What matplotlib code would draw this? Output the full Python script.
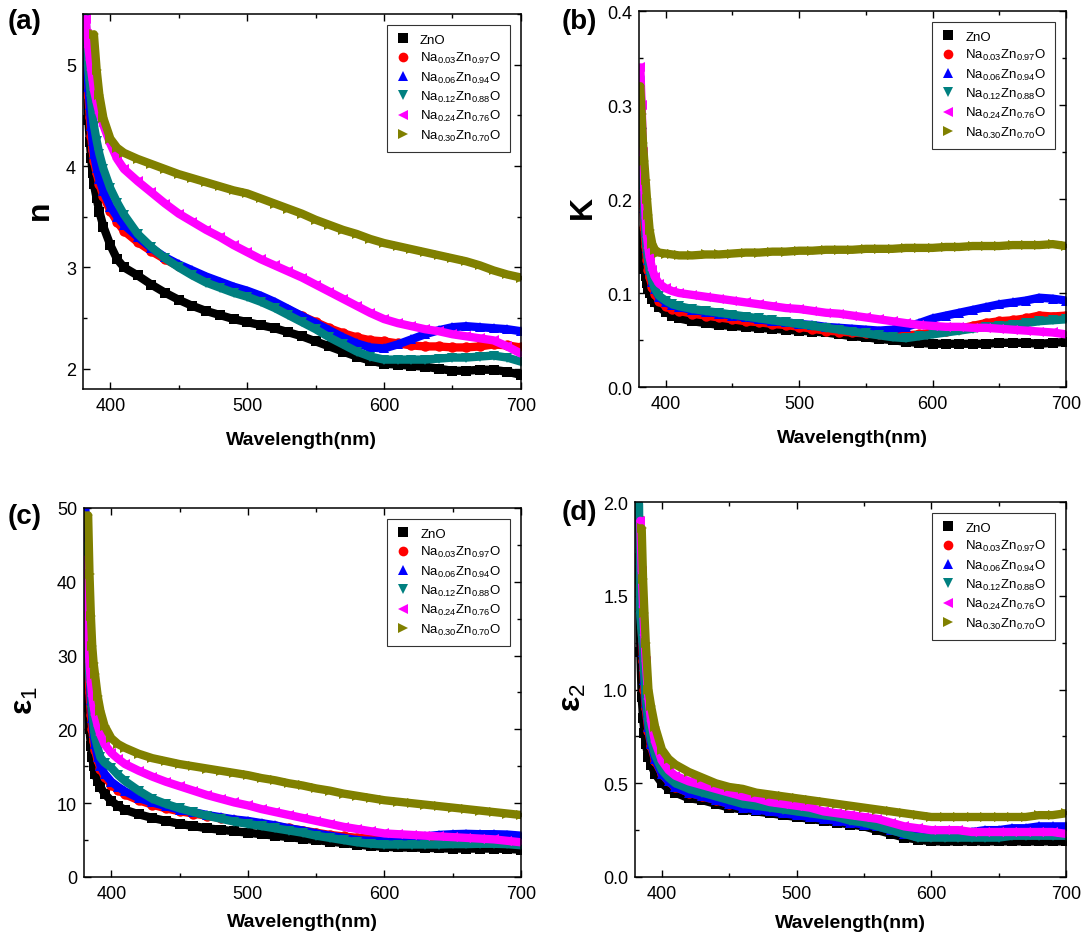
import numpy as np
import matplotlib
matplotlib.use('Agg')
import matplotlib.pyplot as plt
from matplotlib.lines import Line2D
from matplotlib.ticker import MultipleLocator, FormatStrFormatter

plt.rcParams['font.family'] = ['Liberation Sans', 'DejaVu Sans']
plt.rcParams['mathtext.fontset'] = 'custom'
plt.rcParams['mathtext.rm'] = 'Liberation Sans'
plt.rcParams['mathtext.it'] = 'Liberation Sans'
plt.rcParams['mathtext.bf'] = 'Liberation Sans:bold'

nan = np.nan

# wavelength grid (nm): fine steps near the band edge, 10 nm after that
wl = [381, 382, 383, 384, 385, 386, 387, 388, 390, 392, 395, 400, 405, 410] + list(range(420, 701, 10))

samples = ['ZnO', 'Na$_{0.03}$Zn$_{0.97}$O', 'Na$_{0.06}$Zn$_{0.94}$O',
           'Na$_{0.12}$Zn$_{0.88}$O', 'Na$_{0.24}$Zn$_{0.76}$O', 'Na$_{0.30}$Zn$_{0.70}$O']
colors = ['#000000', '#ff0000', '#0000ff', '#008080', '#ff00ff', '#808000']
markers = ['s', 'o', '^', 'v', '<', '>']

# refractive index n
n_ZnO = [nan, 5.2, 4.8, 4.45, 4.24, 4.08, 3.93, 3.82, 3.68, 3.55, 3.4, 3.22, 3.08, 3.0,
         2.92, 2.83, 2.75, 2.68, 2.62, 2.57, 2.53, 2.49, 2.46, 2.43, 2.4, 2.36, 2.32, 2.27, 2.22,
         2.17, 2.12, 2.08, 2.05, 2.04, 2.03, 2.02, 2.0, 1.98, 1.98, 1.99, 1.99, 1.97, 1.94]
n_03 = [nan, 5.32, 4.99, 4.7, 4.48, 4.3, 4.16, 4.05, 3.93, 3.82, 3.7, 3.56, 3.45, 3.36,
        3.25, 3.16, 3.08, 3.01, 2.95, 2.89, 2.84, 2.79, 2.74, 2.69, 2.64, 2.58, 2.52, 2.46, 2.4,
        2.35, 2.31, 2.28, 2.27, 2.25, 2.23, 2.22, 2.22, 2.21, 2.21, 2.22, 2.24, 2.23, 2.21]
n_06 = [nan, 5.27, 5.02, 4.78, 4.6, 4.4, 4.25, 4.12, 3.98, 3.87, 3.75, 3.6, 3.5, 3.42,
        3.3, 3.19, 3.1, 3.03, 2.97, 2.91, 2.86, 2.81, 2.77, 2.72, 2.66, 2.59, 2.52, 2.45, 2.38,
        2.31, 2.25, 2.21, 2.2, 2.24, 2.29, 2.34, 2.38, 2.41, 2.42, 2.41, 2.4, 2.39, 2.37]
n_12 = [nan, 5.45, 5.14, 4.95, 4.8, 4.65, 4.5, 4.4, 4.25, 4.12, 3.97, 3.78, 3.64, 3.52,
        3.33, 3.2, 3.09, 3.0, 2.92, 2.85, 2.8, 2.75, 2.71, 2.66, 2.6, 2.53, 2.46, 2.39, 2.31,
        2.24, 2.17, 2.12, 2.09, 2.09, 2.09, 2.09, 2.1, 2.11, 2.11, 2.12, 2.13, 2.11, 2.07]
n_24 = [nan, 5.45, 5.3, 5.17, 5.05, 4.95, 4.85, 4.75, 4.63, 4.52, 4.4, 4.22, 4.07, 3.97,
        3.85, 3.74, 3.63, 3.53, 3.45, 3.37, 3.3, 3.22, 3.15, 3.08, 3.02, 2.96, 2.9, 2.83, 2.76,
        2.69, 2.62, 2.55, 2.49, 2.45, 2.42, 2.39, 2.37, 2.34, 2.32, 2.3, 2.28, 2.22, 2.15]
n_30 = [nan, nan, nan, nan, nan, nan, nan, 5.3, 4.95, 4.7, 4.47, 4.27, 4.18, 4.13,
        4.07, 4.02, 3.97, 3.92, 3.88, 3.84, 3.8, 3.76, 3.73, 3.68, 3.63, 3.58, 3.53, 3.47, 3.42,
        3.37, 3.33, 3.28, 3.24, 3.21, 3.18, 3.15, 3.12, 3.09, 3.06, 3.02, 2.97, 2.93, 2.9]

# extinction coefficient K
k_ZnO = [0.165, 0.148, 0.136, 0.126, 0.118, 0.111, 0.105, 0.1, 0.094, 0.09, 0.085, 0.08, 0.076, 0.073,
         0.07, 0.068, 0.066, 0.065, 0.064, 0.063, 0.062, 0.061, 0.06, 0.059, 0.058, 0.056, 0.054, 0.053,
         0.051, 0.05, 0.048, 0.047, 0.046, 0.046, 0.046, 0.046, 0.046, 0.047, 0.047, 0.047, 0.046, 0.047, 0.048]
k_03 = [0.3, 0.25, 0.2, 0.17, 0.15, 0.135, 0.125, 0.117, 0.106, 0.099, 0.092, 0.086, 0.083, 0.081,
        0.078, 0.076, 0.074, 0.072, 0.07, 0.069, 0.067, 0.066, 0.064, 0.062, 0.06, 0.059, 0.058, 0.057,
        0.056, 0.055, 0.055, 0.056, 0.058, 0.06, 0.062, 0.065, 0.068, 0.07, 0.071, 0.073, 0.076, 0.075, 0.076]
k_06 = [0.33, 0.28, 0.23, 0.19, 0.165, 0.148, 0.135, 0.125, 0.112, 0.104, 0.096, 0.09, 0.087, 0.085,
        0.082, 0.08, 0.078, 0.076, 0.074, 0.072, 0.07, 0.069, 0.067, 0.066, 0.064, 0.063, 0.062, 0.061,
        0.06, 0.061, 0.064, 0.068, 0.073, 0.076, 0.079, 0.082, 0.085, 0.088, 0.09, 0.092, 0.095, 0.094, 0.092]
k_12 = [0.306, 0.27, 0.22, 0.185, 0.16, 0.145, 0.133, 0.124, 0.112, 0.104, 0.097, 0.092, 0.088, 0.086,
        0.083, 0.081, 0.079, 0.077, 0.075, 0.073, 0.071, 0.069, 0.067, 0.065, 0.063, 0.061, 0.059, 0.057,
        0.055, 0.053, 0.052, 0.054, 0.056, 0.058, 0.06, 0.062, 0.064, 0.065, 0.066, 0.068, 0.07, 0.071, 0.072]
k_24 = [0.34, 0.3, 0.25, 0.21, 0.18, 0.16, 0.148, 0.138, 0.125, 0.117, 0.11, 0.105, 0.102, 0.1,
        0.098, 0.096, 0.094, 0.092, 0.09, 0.088, 0.086, 0.084, 0.083, 0.081, 0.079, 0.078, 0.076, 0.074,
        0.072, 0.07, 0.068, 0.066, 0.065, 0.064, 0.064, 0.063, 0.063, 0.062, 0.061, 0.06, 0.059, 0.058, 0.056]
k_30 = [0.32, 0.29, 0.26, 0.24, 0.22, 0.2, 0.183, 0.167, 0.152, 0.146, 0.143, 0.142, 0.141, 0.14,
        0.14, 0.141, 0.141, 0.142, 0.143, 0.143, 0.144, 0.144, 0.145, 0.145, 0.146, 0.146, 0.146, 0.147,
        0.147, 0.147, 0.148, 0.148, 0.148, 0.149, 0.149, 0.15, 0.15, 0.15, 0.151, 0.151, 0.151, 0.152, 0.15]

# real part of dielectric function
e1_ZnO = [33, 27, 23, 20, 17.8, 16.2, 15, 14, 13, 12.2, 11.3, 10.3, 9.6, 9.1,
          8.5, 8.0, 7.6, 7.2, 6.9, 6.6, 6.4, 6.2, 6.0, 5.8, 5.6, 5.4, 5.2, 5.0, 4.8,
          4.6, 4.4, 4.2, 4.1, 4.0, 4.0, 3.95, 3.9, 3.85, 3.85, 3.85, 3.85, 3.8, 3.7]
e1_03 = [41.7, 33.9, 28.6, 25, 22, 20, 18.4, 17.2, 15.8, 14.7, 13.6, 12.5, 11.8, 11.2,
         10.4, 9.8, 9.3, 8.9, 8.6, 8.3, 8.0, 7.7, 7.5, 7.2, 6.9, 6.6, 6.3, 6.0, 5.7,
         5.5, 5.3, 5.2, 5.1, 5.0, 4.95, 4.9, 4.9, 4.85, 4.85, 4.9, 5.0, 4.95, 4.9]
e1_06 = [49.8, 40, 33.3, 28, 24, 21.5, 19.5, 18, 16.3, 15.1, 14, 12.9, 12.2, 11.6,
         10.7, 10.1, 9.6, 9.1, 8.8, 8.4, 8.1, 7.8, 7.6, 7.3, 7.0, 6.6, 6.3, 5.9, 5.6,
         5.3, 5.0, 4.9, 4.9, 5.1, 5.3, 5.5, 5.7, 5.8, 5.85, 5.8, 5.8, 5.75, 5.6]
e1_12 = [44.7, 36, 30.5, 27, 25.5, 22.5, 20.5, 19, 17.5, 16.2, 15.5, 14.8, 13.8, 13,
         11.7, 10.6, 9.9, 9.3, 8.8, 8.3, 7.9, 7.5, 7.2, 6.9, 6.6, 6.3, 6.0, 5.6, 5.3,
         5.0, 4.7, 4.5, 4.4, 4.4, 4.4, 4.4, 4.4, 4.45, 4.45, 4.5, 4.5, 4.45, 4.3]
e1_24 = [43, 36.6, 32, 29.1, 26.4, 24.5, 23.2, 22, 20.5, 19.3, 18, 16.8, 16, 15.3,
         14.4, 13.6, 12.9, 12.3, 11.7, 11.1, 10.6, 10.1, 9.7, 9.2, 8.8, 8.4, 8.0, 7.6, 7.2,
         6.8, 6.5, 6.2, 5.9, 5.8, 5.7, 5.6, 5.5, 5.4, 5.3, 5.2, 5.1, 4.9, 4.7]
e1_30 = [nan, nan, 49, 41, 35.4, 31.3, 29, 27.5, 24.5, 22.5, 20.5, 18.8, 18, 17.5,
         16.7, 16.1, 15.7, 15.3, 15.0, 14.7, 14.4, 14.1, 13.8, 13.4, 13.1, 12.7, 12.4, 12.0, 11.7,
         11.3, 11.0, 10.7, 10.4, 10.2, 10.0, 9.8, 9.6, 9.4, 9.2, 9.0, 8.8, 8.6, 8.4]

# imaginary part of dielectric function
e2_ZnO = [nan, nan, 1.7, 1.2, 0.96, 0.85, 0.77, 0.71, 0.64, 0.6, 0.55, 0.5, 0.47, 0.45,
          0.42, 0.41, 0.39, 0.37, 0.36, 0.35, 0.34, 0.33, 0.32, 0.31, 0.3, 0.29, 0.28, 0.27, 0.25,
          0.23, 0.21, 0.2, 0.19, 0.19, 0.19, 0.19, 0.19, 0.19, 0.19, 0.19, 0.19, 0.19, 0.19]
e2_03 = [nan, nan, 1.91, 1.55, 1.34, 1.15, 1.0, 0.9, 0.78, 0.7, 0.62, 0.55, 0.51, 0.48,
         0.45, 0.43, 0.41, 0.39, 0.38, 0.37, 0.36, 0.35, 0.34, 0.33, 0.32, 0.31, 0.3, 0.29, 0.28,
         0.26, 0.24, 0.23, 0.22, 0.22, 0.22, 0.23, 0.23, 0.23, 0.24, 0.24, 0.25, 0.25, 0.25]
e2_06 = [nan, nan, nan, 1.69, 1.45, 1.2, 1.05, 0.93, 0.8, 0.71, 0.63, 0.55, 0.51, 0.48,
         0.45, 0.43, 0.41, 0.39, 0.37, 0.36, 0.35, 0.34, 0.33, 0.32, 0.31, 0.3, 0.29, 0.28, 0.27,
         0.25, 0.23, 0.22, 0.22, 0.23, 0.23, 0.24, 0.25, 0.25, 0.26, 0.26, 0.27, 0.27, 0.27]
e2_12 = [nan, nan, 1.99, 1.39, 1.3, 1.23, 1.08, 0.96, 0.82, 0.73, 0.65, 0.57, 0.53, 0.5,
         0.47, 0.45, 0.43, 0.41, 0.39, 0.38, 0.37, 0.36, 0.35, 0.34, 0.33, 0.32, 0.3, 0.29, 0.27,
         0.25, 0.23, 0.21, 0.21, 0.21, 0.21, 0.21, 0.21, 0.21, 0.22, 0.22, 0.22, 0.22, 0.22]
e2_24 = [nan, nan, nan, 1.9, 1.63, 1.44, 1.29, 1.15, 0.95, 0.83, 0.72, 0.62, 0.57, 0.54,
         0.51, 0.49, 0.47, 0.45, 0.43, 0.42, 0.4, 0.39, 0.38, 0.37, 0.35, 0.34, 0.33, 0.32, 0.31,
         0.29, 0.27, 0.26, 0.25, 0.25, 0.25, 0.24, 0.24, 0.24, 0.24, 0.24, 0.24, 0.24, 0.23]
e2_30 = [nan, nan, nan, nan, 1.86, 1.59, 1.41, 1.25, 1.0, 0.91, 0.8, 0.68, 0.63, 0.6,
         0.56, 0.53, 0.5, 0.48, 0.47, 0.45, 0.44, 0.43, 0.42, 0.41, 0.4, 0.39, 0.38, 0.37, 0.36,
         0.35, 0.34, 0.33, 0.32, 0.32, 0.32, 0.32, 0.32, 0.32, 0.32, 0.32, 0.33, 0.33, 0.34]

panels = [
    ('(a)', 'n', [n_ZnO, n_03, n_06, n_12, n_24, n_30], (1.8, 5.5), 1, 0.5, '%d'),
    ('(b)', 'K', [k_ZnO, k_03, k_06, k_12, k_24, k_30], (0, 0.4), 0.1, 0.05, '%.1f'),
    ('(c)', 'ε$_1$', [e1_ZnO, e1_03, e1_06, e1_12, e1_24, e1_30], (0, 50), 10, 5, '%d'),
    ('(d)', 'ε$_2$', [e2_ZnO, e2_03, e2_06, e2_12, e2_24, e2_30], (0, 2.0), 0.5, 0.25, '%.1f'),
]

# axes boxes [left, bottom, width, height] in figure fractions
boxes = [[0.0766, 0.5873, 0.4044, 0.3968],
         [0.5900, 0.5894, 0.3943, 0.3979],
         [0.0776, 0.0709, 0.4035, 0.3905],
         [0.5863, 0.0709, 0.3980, 0.3968]]
letter_pos = [(0.007, 0.977), (0.519, 0.977), (0.007, 0.453), (0.519, 0.457)]
ylab_x = [-0.064, -0.096, -0.10, -0.11]
xlab_y = [-0.112, -0.112, -0.098, -0.098]

fig = plt.figure(figsize=(10.83, 9.45), dpi=100)

for i, (letter, ylab, series, ylim, major, minor, fmt) in enumerate(panels):
    ax = fig.add_axes(boxes[i])
    for y, c, m in zip(series, colors, markers):
        ax.plot(wl, y, color=c, lw=6, marker=m, ms=7.5, mew=0, solid_capstyle='round')

    ax.set_xlim(380, 700)
    ax.set_ylim(*ylim)
    ax.xaxis.set_major_locator(MultipleLocator(100))
    ax.xaxis.set_minor_locator(MultipleLocator(50))
    ax.yaxis.set_major_locator(MultipleLocator(major))
    ax.yaxis.set_minor_locator(MultipleLocator(minor))
    ax.yaxis.set_major_formatter(FormatStrFormatter(fmt))
    ax.tick_params(which='both', direction='in', top=True, right=True, labelsize=13, width=1)
    ax.tick_params(which='major', length=5)
    ax.tick_params(which='minor', length=3)
    ax.tick_params(axis='x', pad=6)
    ax.tick_params(axis='y', pad=5)
    for s in ax.spines.values():
        s.set_linewidth(1.1)

    ax.set_xlabel('Wavelength(nm)', fontsize=14, fontweight='bold')
    ax.xaxis.set_label_coords(0.5, xlab_y[i])
    ax.set_ylabel(ylab, fontsize=23, fontweight='bold')
    ax.yaxis.set_label_coords(ylab_x[i], 0.48)

    handles = [Line2D([], [], ls='none', marker=m, color=c, ms=7, mew=0) for c, m in zip(colors, markers)]
    leg = ax.legend(handles, samples, loc='upper right', fontsize=9.5, frameon=True, fancybox=False,
                    borderaxespad=0.8, handlelength=1.0, handletextpad=0.8, labelspacing=0.32,
                    borderpad=0.7)
    leg.get_frame().set_edgecolor('black')
    leg.get_frame().set_linewidth(0.8)

    fig.text(letter_pos[i][0], letter_pos[i][1], letter, fontsize=20, fontweight='bold', va='center')

fig.savefig('out.png', dpi=100)
